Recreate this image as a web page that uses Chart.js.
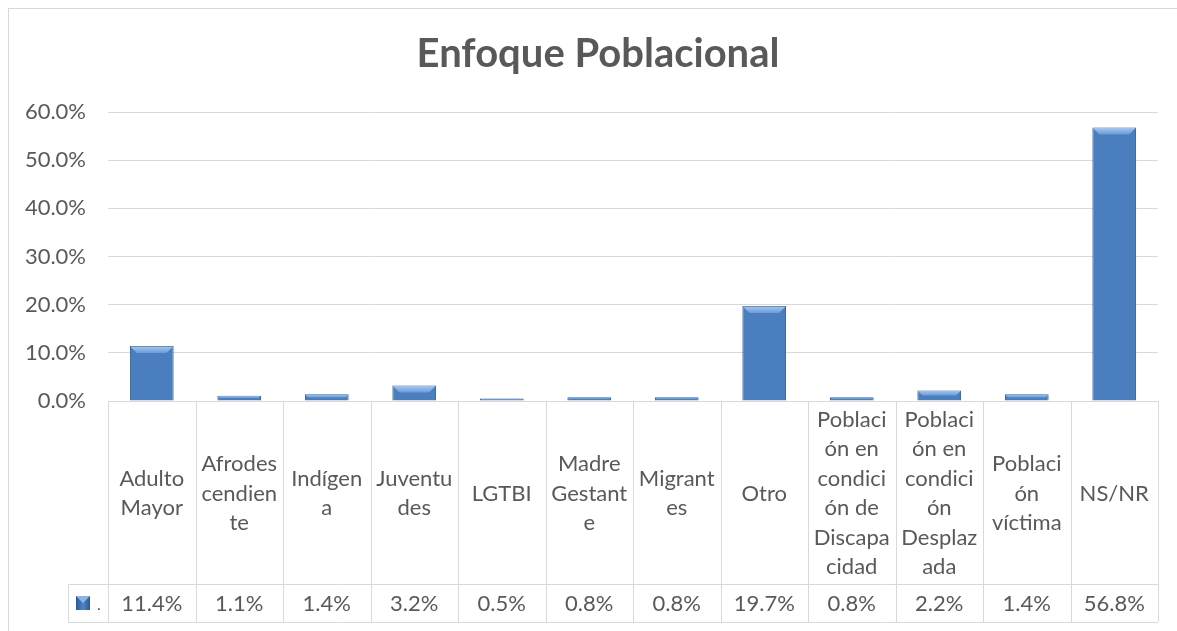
<!DOCTYPE html>
<html>
<head>
<meta charset="utf-8">
<title>Enfoque Poblacional</title>
<script src="https://cdn.jsdelivr.net/npm/chart.js@4"></script>
<style>
  html, body { margin: 0; padding: 0; background: #fff; }
  #wrap { width: 1177px; height: 631px; }
</style>
</head>
<body>
<div id="wrap"><canvas id="enfoqueChart" width="1177" height="631"></canvas></div>
<script>
'use strict';

/* --------------------------------------------------------------------------
   DATA
   -------------------------------------------------------------------------- */
const categories = [
    'Adulto Mayor', 'Afrodescendiente', 'Indígena', 'Juventudes', 'LGTBI', 'Madre Gestante',
    'Migrantes', 'Otro', 'Población en condición de Discapacidad',
    'Población en condición Desplazada', 'Población víctima', 'NS/NR'
];
// wrapped the same way the spreadsheet wraps them in the data table
const categoryLines = [
    ['Adulto', 'Mayor'], ['Afrodes', 'cendien', 'te'], ['Indígen', 'a'], ['Juventu', 'des'],
    ['LGTBI'], ['Madre', 'Gestant', 'e'], ['Migrant', 'es'], ['Otro'],
    ['Poblaci', 'ón en', 'condici', 'ón de', 'Discapa', 'cidad'],
    ['Poblaci', 'ón en', 'condici', 'ón', 'Desplaz', 'ada'],
    ['Poblaci', 'ón', 'víctima'], ['NS/NR']
];
const percentValues = [11.4, 1.1, 1.4, 3.2, 0.5, 0.8, 0.8, 19.7, 0.8, 2.2, 1.4, 56.8];
const yTicks = [0, 10, 20, 30, 40, 50, 60];
const seriesName = '.';

const FONT = 'Lato, "Open Sans", sans-serif';
const TEXT = '#595959';
const LINE = '#d9d9d9';

/* --------------------------------------------------------------------------
   BAR FILL — horizontal gradient, darker edges like the bevelled Excel bars
   -------------------------------------------------------------------------- */
function barFill(ctx) {
    const el = ctx.element;
    const c = ctx.chart.ctx;
    if (!el || !isFinite(el.x) || !el.width) return '#4a7ebf';
    const x0 = el.x - el.width / 2, x1 = el.x + el.width / 2;
    const g = c.createLinearGradient(x0, 0, x1, 0);
    g.addColorStop(0, '#2b5893');
    g.addColorStop(0.12, '#4476b7');
    g.addColorStop(0.5, '#4f85c7');
    g.addColorStop(0.88, '#4476b7');
    g.addColorStop(1, '#2b5893');
    return g;
}

/* --------------------------------------------------------------------------
   PLUGINS
   -------------------------------------------------------------------------- */
const frame = {
    id: 'frame',
    // the y labels sit left of the (narrow) axis box; widen its label clip
    afterLayout(chart) { chart.scales.y.left = 0; },
    beforeDraw(chart) {
        const c = chart.ctx;
        c.save();
        c.strokeStyle = LINE;
        c.lineWidth = 1;
        c.strokeRect(8.5, 8.5, chart.width + 20, chart.height + 20);
        c.restore();
    }
};

// lighter top face on each bar
const bevel = {
    id: 'bevel',
    afterDatasetsDraw(chart) {
        const c = chart.ctx;
        chart.getDatasetMeta(0).data.forEach(bar => {
            const w = bar.width, h = bar.base - bar.y;
            const x0 = bar.x - w / 2, x1 = bar.x + w / 2;
            const d = Math.min(7, h / 2);
            c.save();
            const g = c.createLinearGradient(0, bar.y, 0, bar.y + d);
            g.addColorStop(0, '#a9c8ef');
            g.addColorStop(1, '#6b9bd6');
            c.fillStyle = g;
            c.beginPath();
            c.moveTo(x0 + 0.5, bar.y + 0.5);
            c.lineTo(x1 - 0.5, bar.y + 0.5);
            c.lineTo(x1 - d, bar.y + d);
            c.lineTo(x0 + d, bar.y + d);
            c.closePath();
            c.fill();
            c.restore();
        });
    }
};

// data table under the plot: category row + value row
const dataTable = {
    id: 'dataTable',
    afterDraw(chart) {
        const c = chart.ctx;
        const x = chart.scales.x;
        const area = chart.chartArea;
        const step = (area.right - area.left) / categories.length;
        const top = area.bottom;
        const mid = top + 183;
        const bottom = mid + 38;
        const keyLeft = area.left - 40;

        c.save();
        c.strokeStyle = LINE;
        c.lineWidth = 1;
        c.beginPath();
        c.moveTo(area.left, top + 0.5); c.lineTo(area.right, top + 0.5);
        c.moveTo(keyLeft, mid + 0.5); c.lineTo(area.right, mid + 0.5);
        c.moveTo(keyLeft, bottom + 0.5); c.lineTo(area.right, bottom + 0.5);
        c.moveTo(keyLeft + 0.5, mid); c.lineTo(keyLeft + 0.5, bottom);
        for (let i = 0; i <= categories.length; i++) {
            const px = Math.round(x.getPixelForValue(i) - step / 2) + 0.5;
            c.moveTo(px, top); c.lineTo(px, bottom);
        }
        c.stroke();

        c.fillStyle = TEXT;
        c.font = '22px ' + FONT;
        c.textAlign = 'center';
        c.textBaseline = 'middle';
        const lh = 29.4;
        const rowMid = (top + mid) / 2 + 1;
        categoryLines.forEach((lines, i) => {
            const cx = x.getPixelForValue(i);
            const y0 = rowMid - (lines.length - 1) * lh / 2;
            lines.forEach((t, k) => c.fillText(t, cx, y0 + k * lh));
            c.fillText(percentValues[i].toFixed(1) + '%', cx, (mid + bottom) / 2 + 1);
        });

        // legend key
        const ky = (mid + bottom) / 2;
        const kg = c.createLinearGradient(keyLeft + 8, 0, keyLeft + 22, 0);
        kg.addColorStop(0, '#2b5893'); kg.addColorStop(0.5, '#4f85c7'); kg.addColorStop(1, '#2b5893');
        c.fillStyle = kg;
        c.fillRect(keyLeft + 8, ky - 7, 14, 14);
        c.fillStyle = '#8db4e2';
        c.beginPath();
        c.moveTo(keyLeft + 8, ky - 7); c.lineTo(keyLeft + 22, ky - 7); c.lineTo(keyLeft + 15, ky); c.closePath();
        c.fill();
        c.fillStyle = TEXT;
        c.font = '16px ' + FONT;
        c.fillText(seriesName, keyLeft + 31, ky + 2);
        c.restore();
    }
};

/* --------------------------------------------------------------------------
   CHART
   -------------------------------------------------------------------------- */
const ctx = document.getElementById('enfoqueChart').getContext('2d');
new Chart(ctx, {
    type: 'bar',
    data: {
        labels: categories,
        datasets: [{
            label: seriesName,
            data: percentValues,
            backgroundColor: barFill,
            borderColor: '#2a5488',
            borderWidth: 1,
            barPercentage: 0.5,
            categoryPercentage: 1.0,
        }],
    },
    options: {
        responsive: false,
        animation: false,
        layout: { padding: { left: 38, right: 19, top: 0, bottom: 230 } },
        plugins: {
            legend: { display: false },
            tooltip: { enabled: false },
            title: {
                display: true,
                text: 'Enfoque Poblacional',
                color: TEXT,
                font: { family: FONT, size: 40, weight: 'bold' },
                padding: { top: 30, bottom: 34 },
            },
        },
        scales: {
            x: { display: false },
            y: {
                min: 0, max: 60,
                afterBuildTicks: s => { s.ticks = yTicks.map(v => ({ value: v })); },
                afterFit: s => { s.width = 70; },
                ticks: { color: TEXT, font: { family: FONT, size: 22 }, padding: 22, callback: v => v.toFixed(1) + '%' },
                grid: { color: LINE, drawTicks: false },
                border: { display: false },
            },
        },
    },
    plugins: [frame, bevel, dataTable],
});
</script>
</body>
</html>
